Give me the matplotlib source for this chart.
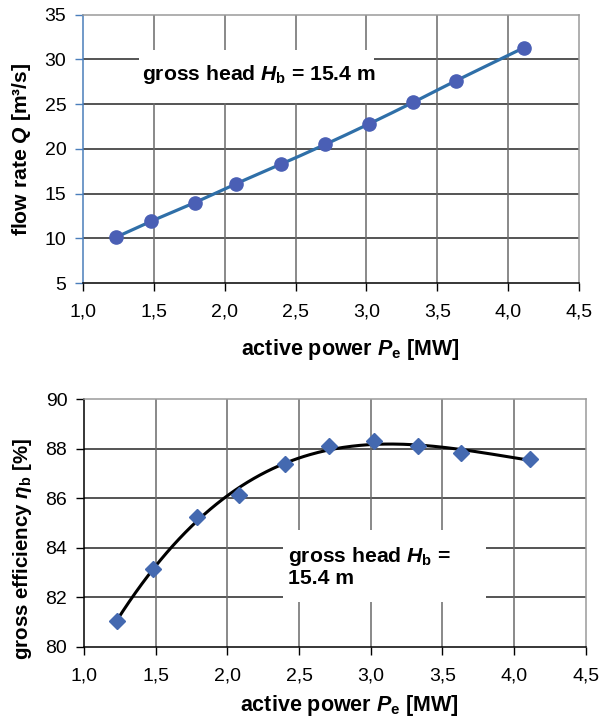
import numpy as np
import matplotlib
matplotlib.use("Agg")
import matplotlib.pyplot as plt
from matplotlib.patches import Rectangle

# ---------------- data ----------------
power_mw = [1.23, 1.48, 1.79, 2.08, 2.40, 2.71, 3.02, 3.33, 3.63, 4.11]
flow_rate = [10.1, 11.9, 14.0, 16.1, 18.3, 20.5, 22.8, 25.2, 27.6, 31.3]
efficiency = [81.05, 83.13, 85.24, 86.13, 87.40, 88.10, 88.30, 88.10, 87.83, 87.59]

x_ticks = [1.0, 1.5, 2.0, 2.5, 3.0, 3.5, 4.0, 4.5]
x_ticklabels = ["1,0", "1,5", "2,0", "2,5", "3,0", "3,5", "4,0", "4,5"]
q_ticks = [5, 10, 15, 20, 25, 30, 35]
eta_ticks = [80, 82, 84, 86, 88, 90]

plt.rcParams['font.family'] = ['Liberation Sans', 'DejaVu Sans']
plt.rcParams['mathtext.fontset'] = 'custom'
plt.rcParams['mathtext.rm'] = 'Liberation Sans:bold'
plt.rcParams['mathtext.it'] = 'Liberation Sans:bold:italic'
plt.rcParams['mathtext.bf'] = 'Liberation Sans:bold'

W, H = 600, 719
fig = plt.figure(figsize=(W / 100, H / 100), dpi=100)


def px_axes(left, top, right, bottom):
    return fig.add_axes([left / W, 1 - bottom / H, (right - left) / W, (bottom - top) / H])


def white_box(ax, box_px, ax_px):
    # box_px: (left, top, right, bottom) in figure pixels; ax_px the axes extent
    l, t, r, b = box_px
    al, at, ar, ab = ax_px
    x0 = (l - al) / (ar - al)
    x1 = (r - al) / (ar - al)
    y0 = (ab - b) / (ab - at)
    y1 = (ab - t) / (ab - at)
    ax.add_patch(Rectangle((x0, y0), x1 - x0, y1 - y0, transform=ax.transAxes,
                           facecolor='white', edgecolor='none', zorder=2))


def catmull(xs, ys, n=20):
    xs = np.asarray(xs, float)
    ys = np.asarray(ys, float)
    P = np.column_stack([xs, ys])
    P = np.vstack([2 * P[0] - P[1], P, 2 * P[-1] - P[-2]])
    out = []
    t = np.linspace(0, 1, n)[:, None]
    for i in range(1, len(P) - 2):
        p0, p1, p2, p3 = P[i - 1], P[i], P[i + 1], P[i + 2]
        seg = 0.5 * ((2 * p1) + (-p0 + p2) * t + (2 * p0 - 5 * p1 + 4 * p2 - p3) * t ** 2
                     + (-p0 + 3 * p1 - 3 * p2 + p3) * t ** 3)
        out.append(seg)
    out = np.vstack(out)
    return out[:, 0], out[:, 1]


def style(ax, yticks, left_color):
    ax.set_xlim(1.0, 4.5)
    ax.set_ylim(yticks[0], yticks[-1])
    ax.set_xticks(x_ticks)
    ax.set_xticklabels(x_ticklabels)
    ax.set_yticks(yticks)
    ax.tick_params(direction='out', length=6, width=1, labelsize=14, colors='black')
    ax.tick_params(axis='x', pad=9)
    ax.tick_params(axis='y', color=left_color, pad=6)
    for yv in yticks[1:-1]:
        ax.axhline(yv, color='#262626', lw=1.1, zorder=1)
    for xv in x_ticks[1:-1]:
        ax.axvline(xv, color='#6a6a6a', lw=1.1, zorder=1)
    ax.spines['left'].set_color(left_color)
    ax.spines['bottom'].set_color('black')
    ax.spines['top'].set_color('#9a9a9a')
    ax.spines['right'].set_color('#9a9a9a')
    for s in ax.spines.values():
        s.set_linewidth(1.1)
        s.set_zorder(3)


# ---------------- top chart ----------------
ax1_px = (83, 14.7, 579, 283)
ax1 = px_axes(*ax1_px)
style(ax1, q_ticks, '#4a7ebb')
sx, sy = catmull(power_mw, flow_rate)
ax1.plot(sx, sy, color='#2f6fa8', lw=2.3, zorder=4)
ax1.plot(power_mw, flow_rate, 'o', color='#4a5fb5', ms=9.5, mec='#4a5fb5', zorder=5)
white_box(ax1, (139, 50, 374, 103), ax1_px)
ax1.text(2.24, 28.35, r'gross head $H_\mathrm{b}$ = 15.4 m', fontsize=15.2, fontweight='bold',
         ha='center', va='center', zorder=6)
ax1.set_xlabel(r'active power $P_\mathrm{e}$ [MW]', fontsize=15.5, fontweight='bold')
ax1.xaxis.set_label_coords(0.54, -0.2)
ax1.set_ylabel(r'flow rate $Q$ [m³/s]', fontsize=15.2, fontweight='bold')
ax1.yaxis.set_label_coords(-0.1, 0.5)

# ---------------- bottom chart ----------------
ax2_px = (84, 399.3, 585.7, 646.5)
ax2 = px_axes(*ax2_px)
style(ax2, eta_ticks, 'black')
coef = np.polyfit(power_mw, efficiency, 3)
xf = np.linspace(power_mw[0], power_mw[-1], 200)
ax2.plot(xf, np.polyval(coef, xf), color='black', lw=2.2, zorder=4)
ax2.plot(power_mw, efficiency, 'D', color='#4469b0', ms=8, zorder=5)
white_box(ax2, (283, 530, 486, 602), ax2_px)
ax2.text(2.42, 83.25, 'gross head $H_\\mathrm{b}$ =\n15.4 m', fontsize=15.2, fontweight='bold',
         ha='left', va='center', zorder=6, linespacing=1.05)
ax2.set_xlabel(r'active power $P_\mathrm{e}$ [MW]', fontsize=15.5, fontweight='bold')
ax2.xaxis.set_label_coords(0.53, -0.19)
ax2.set_ylabel(r'gross efficiency $\eta_\mathrm{b}$ [%]', fontsize=14.8, fontweight='bold')
ax2.yaxis.set_label_coords(-0.1, 0.395)

fig.savefig('out.png', dpi=100)
